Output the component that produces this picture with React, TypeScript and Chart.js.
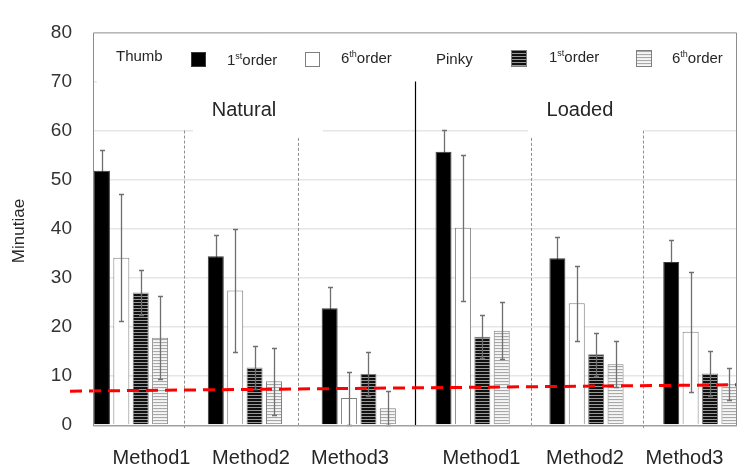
import { useEffect, useRef } from "react";
import { Chart, registerables } from "chart.js";

Chart.register(...registerables);

const FONT = "'Liberation Sans', Arial, sans-serif";

// ---- data ----
const groupPos = [0, 1, 2, 3, 4, 5]; // Natural M1..M3, Loaded M1..M3
const xLabels = ["Method1", "Method2", "Method3", "Method1", "Method2", "Method3"];
const xLabelPos = [0.18, 1.054, 1.923, 3.078, 3.987, 4.861];

const thumb1st = [51.8, 34.4, 23.8, 55.7, 34.0, 33.2];
const thumb1stErr = [4.3, 4.3, 4.4, 4.5, 4.4, 4.5];
const thumb6th = [34.1, 27.4, 5.5, 40.2, 24.8, 19.0];
const thumb6thErr = [13.0, 12.5, 5.4, 14.9, 7.7, 12.2];
const pinky1st = [27.0, 11.7, 10.4, 18.0, 14.4, 10.5];
const pinky1stErr = [4.5, 4.4, 4.4, 4.4, 4.4, 4.6];
const pinky6th = [17.8, 8.9, 3.4, 19.2, 12.4, 8.3];
const pinky6thErr = [8.5, 6.8, 3.5, 5.8, 4.7, 3.3];

const thresholdX = [-0.536, 5.322];
const thresholdY = [6.9, 8.2];

const panelTitles = ["Natural", "Loaded"];
const panelTitlePos = [0.992, 3.943];
const panelTitleY = 64.1;

const dottedX = [0.465, 1.467, 3.513, 4.497];
const dottedTop = [60, 58.5, 58.5, 60];
const solidX = 2.494;
const solidTop = 70;

const X_MIN = -0.334;
const X_MAX = 5.322;

function makePattern(rows: string[]): CanvasPattern | string {
  const c = document.createElement("canvas");
  c.width = 4;
  c.height = rows.length;
  const g = c.getContext("2d");
  if (!g) return rows[0];
  rows.forEach((col, i) => {
    g.fillStyle = col;
    g.fillRect(0, i, 4, 1);
  });
  const p = g.createPattern(c, "repeat");
  return p || rows[0];
}

export default function App() {
  const ref = useRef<HTMLCanvasElement>(null);

  useEffect(() => {
    const canvas = ref.current;
    if (!canvas) return;
    document.body.style.margin = "0";

    const darkPat = makePattern(["#111111", "#111111", "#999999"]);
    const lightPat = makePattern(["#a8a8a8", "#eeeeee", "#f6f6f6"]);

    const series = [
      { values: thumb1st, errs: thumb1stErr, fill: "#000000" as any, border: "#3a3a3a" },
      { values: thumb6th, errs: thumb6thErr, fill: "#ffffff" as any, border: "#7f7f7f" },
      { values: pinky1st, errs: pinky1stErr, fill: darkPat as any, border: "#7f7f7f" },
      { values: pinky6th, errs: pinky6thErr, fill: lightPat as any, border: "#7f7f7f" },
    ];

    const drawErrors = (chart: any, which: number[]) => {
      const ctx = chart.ctx as CanvasRenderingContext2D;
      const ys = chart.scales.y;
      ctx.save();
      ctx.strokeStyle = "#6f6f6f";
      ctx.lineWidth = 1.3;
      which.forEach((di) => {
        const s = series[di];
        const meta = chart.getDatasetMeta(di + 1);
        meta.data.forEach((el: any, j: number) => {
          const x = Math.round(el.x) + 0.5;
          const top = Math.round(ys.getPixelForValue(s.values[j] + s.errs[j])) + 0.5;
          const bot = Math.round(ys.getPixelForValue(Math.max(0, s.values[j] - s.errs[j]))) + 0.5;
          ctx.beginPath();
          ctx.moveTo(x, top);
          ctx.lineTo(x, bot);
          ctx.moveTo(x - 2.5, top);
          ctx.lineTo(x + 2.5, top);
          ctx.moveTo(x - 2.5, bot);
          ctx.lineTo(x + 2.5, bot);
          ctx.stroke();
        });
      });
      ctx.restore();
    };

    const decoPlugin = {
      id: "deco",
      beforeDatasetsDraw(chart: any) {
        const ctx = chart.ctx as CanvasRenderingContext2D;
        const xs = chart.scales.x;
        const ys = chart.scales.y;
        const area = chart.chartArea;
        ctx.save();
        // white boxes behind legend and titles (hide gridlines)
        ctx.fillStyle = "#ffffff";
        const box = (x0: number, x1: number, y0: number, y1: number) => {
          const px0 = xs.getPixelForValue(x0);
          const px1 = xs.getPixelForValue(x1);
          const py0 = ys.getPixelForValue(y0);
          const py1 = ys.getPixelForValue(y1);
          ctx.fillRect(px0, py0, px1 - px0, py1 - py0);
        };
        box(-0.30, X_MAX, 78, 68.5);
        box(0.545, 1.686, 67.5, 58.8);
        box(3.487, 4.514, 67.5, 58.8);

        // dotted dividers
        ctx.strokeStyle = "#8f8f8f";
        ctx.lineWidth = 1;
        ctx.setLineDash([3, 2]);
        dottedX.forEach((v, i) => {
          const x = Math.round(xs.getPixelForValue(v)) + 0.5;
          ctx.beginPath();
          ctx.moveTo(x, ys.getPixelForValue(dottedTop[i]));
          ctx.lineTo(x, area.bottom + 3);
          ctx.stroke();
        });
        ctx.setLineDash([]);
        // solid divider
        {
          const x = Math.round(xs.getPixelForValue(solidX)) + 0.5;
          ctx.strokeStyle = "#000000";
          ctx.lineWidth = 1.2;
          ctx.beginPath();
          ctx.moveTo(x, ys.getPixelForValue(solidTop));
          ctx.lineTo(x, area.bottom);
          ctx.stroke();
        }

        // panel titles
        ctx.fillStyle = "#262626";
        ctx.font = `20px ${FONT}`;
        ctx.textAlign = "center";
        ctx.textBaseline = "middle";
        panelTitles.forEach((t, i) => {
          ctx.fillText(t, xs.getPixelForValue(panelTitlePos[i]), ys.getPixelForValue(panelTitleY));
        });

        // legend
        ctx.textAlign = "left";
        ctx.textBaseline = "alphabetic";
        const txt = (s: string, x: number, y: number) => {
          ctx.font = `15px ${FONT}`;
          ctx.fillText(s, x, y);
        };
        const order = (num: string, sup: string, x: number, y: number) => {
          ctx.font = `15px ${FONT}`;
          ctx.fillText(num, x, y);
          const w1 = ctx.measureText(num).width;
          ctx.font = `9px ${FONT}`;
          ctx.fillText(sup, x + w1, y - 6);
          const w2 = ctx.measureText(sup).width;
          ctx.font = `15px ${FONT}`;
          ctx.fillText("order", x + w1 + w2, y);
        };
        const square = (x: number, y: number, w: number, h: number, fill: any, stroke: string) => {
          ctx.fillStyle = fill;
          ctx.fillRect(x, y, w, h);
          ctx.strokeStyle = stroke;
          ctx.lineWidth = 1;
          ctx.strokeRect(x + 0.5, y + 0.5, w - 1, h - 1);
        };
        ctx.fillStyle = "#262626";
        txt("Thumb", 116, 61);
        square(191, 52, 15, 15, "#000000", "#3a3a3a");
        ctx.fillStyle = "#262626";
        order("1", "st", 227, 65);
        square(305, 52, 15, 15, "#ffffff", "#7f7f7f");
        ctx.fillStyle = "#262626";
        order("6", "th", 341, 63);
        txt("Pinky", 436, 64);
        square(511, 50, 16, 17, darkPat, "#7f7f7f");
        ctx.fillStyle = "#262626";
        order("1", "st", 549, 62);
        square(636, 50, 16, 17, lightPat, "#7f7f7f");
        ctx.fillStyle = "#262626";
        order("6", "th", 672, 63);
        ctx.restore();

        // error bars of the solid black series sit behind their bars
        drawErrors(chart, [0]);
      },
      afterDatasetsDraw(chart: any) {
        drawErrors(chart, [1, 2, 3]);
      },
      afterDraw(chart: any) {
        const ctx = chart.ctx as CanvasRenderingContext2D;
        const xs = chart.scales.x;
        const area = chart.chartArea;
        ctx.save();
        // plot border
        ctx.strokeStyle = "#8c8c8c";
        ctx.lineWidth = 1;
        ctx.beginPath();
        ctx.moveTo(area.left + 0.5, area.bottom);
        ctx.lineTo(area.left + 0.5, area.top + 0.5);
        ctx.lineTo(area.right - 0.5, area.top + 0.5);
        ctx.lineTo(area.right - 0.5, area.bottom);
        ctx.stroke();
        ctx.strokeStyle = "#a0a0a0";
        ctx.lineWidth = 1.5;
        ctx.beginPath();
        ctx.moveTo(area.left, area.bottom + 0.75);
        ctx.lineTo(area.right, area.bottom + 0.75);
        ctx.stroke();

        // x labels
        ctx.fillStyle = "#262626";
        ctx.font = `20px ${FONT}`;
        ctx.textAlign = "center";
        ctx.textBaseline = "middle";
        xLabels.forEach((t, i) => {
          ctx.fillText(t, xs.getPixelForValue(xLabelPos[i]), 458);
        });

        // y title
        ctx.translate(19, 231);
        ctx.rotate(-Math.PI / 2);
        ctx.font = `17px ${FONT}`;
        ctx.fillText("Minutiae", 0, 0);
        ctx.restore();
      },
    };

    const datasets: any[] = [
      {
        type: "line",
        label: "threshold",
        data: thresholdX.map((x, i) => ({ x, y: thresholdY[i] })),
        borderColor: "#ff0000",
        borderWidth: 3,
        borderDash: [12, 7],
        pointRadius: 0,
        fill: false,
        tension: 0,
        clip: false,
        order: -1,
      },
      ...series.map((s, i) => ({
        type: "bar",
        label: ["Thumb 1st order", "Thumb 6th order", "Pinky 1st order", "Pinky 6th order"][i],
        data: groupPos.map((x, j) => ({ x, y: s.values[j] })),
        backgroundColor: s.fill,
        borderColor: s.border,
        borderWidth: 1,
        categoryPercentage: 0.6815,
        barPercentage: 0.825,
        order: 0,
      })),
    ];

    const chart = new Chart(canvas, {
      type: "bar",
      data: { datasets },
      options: {
        animation: false,
        responsive: false,
        devicePixelRatio: 1,
        layout: { padding: { top: 22, right: 2, left: 0, bottom: 0 } },
        plugins: {
          legend: { display: false },
          tooltip: { enabled: false },
        },
        scales: {
          x: {
            type: "linear",
            offset: false,
            min: X_MIN,
            max: X_MAX,
            grid: { display: false, drawTicks: false, offset: false },
            ticks: { display: false },
            border: { display: false },
            afterFit: (s: any) => {
              s.height = 41;
            },
          },
          y: {
            min: 0,
            max: 80,
            ticks: {
              stepSize: 10,
              padding: 21,
              color: "#333333",
              font: { size: 19, family: FONT },
            },
            grid: {
              drawTicks: false,
              lineWidth: 1.5,
              color: (c: any) =>
                c.tick && (c.tick.value === 0 || c.tick.value === 80) ? "rgba(0,0,0,0)" : "#e6e6e6",
            },
            border: { display: false },
            afterFit: (s: any) => {
              s.width = 93;
            },
          },
        },
      } as any,
      plugins: [decoPlugin],
    });
    return () => chart.destroy();
  }, []);

  return (
    <div style={{ position: "fixed", left: 0, top: 0, width: 739, height: 466, background: "#ffffff" }}>
      <canvas ref={ref} width={739} height={466} style={{ display: "block" }} />
    </div>
  );
}
